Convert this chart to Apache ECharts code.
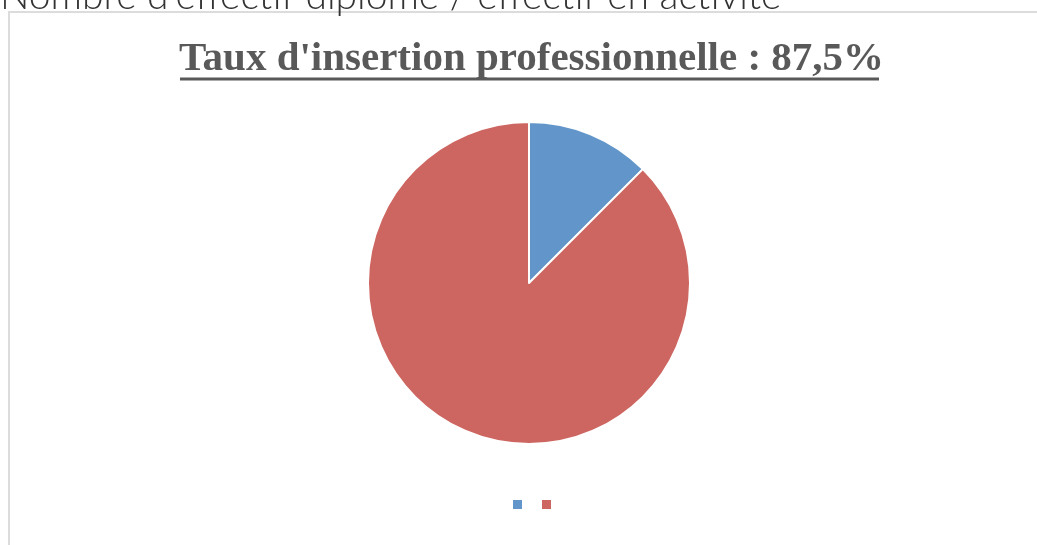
<!DOCTYPE html>
<html>
<head>
<meta charset="utf-8">
<script src="https://cdn.jsdelivr.net/npm/echarts@6/dist/echarts.min.js"></script>
<style>
  html, body { margin: 0; padding: 0; background: #fff; }
  #chart { width: 1037px; height: 545px; }
</style>
</head>
<body>
<div id="chart"></div>
<script>
// données
const categories = ['Non insérés', 'Insérés']
const values = [12.5, 87.5]
const colors = ['#6295c9', '#cd6660']
const headerText = "Nombre d'effectif diplômé / effectif en activité"
const titleText = "Taux d'insertion professionnelle : 87,5%"

const chart = echarts.init(document.getElementById('chart'))

chart.setOption({
  animation: false,
  color: colors,
  title: {
    text: titleText,
    left: 179,
    top: 39,
    padding: 0,
    textStyle: {
      fontFamily: 'Liberation Serif',
      fontWeight: 'bold',
      fontSize: 41,
      color: '#595959'
    }
  },
  legend: {
    top: 500,
    left: 513,
    itemWidth: 9,
    itemHeight: 9,
    itemGap: 20,
    icon: 'rect',
    padding: 0,
    itemStyle: { borderWidth: 0 },
    formatter: () => '',
    data: categories
  },
  graphic: [
    // cadre gris clair
    {
      type: 'rect',
      shape: { x: 9, y: 12, width: 1100, height: 600 },
      style: { fill: 'none', stroke: '#dcdcdc', lineWidth: 2 },
      silent: true
    },
    // texte du haut, coupé
    {
      type: 'text',
      left: 0,
      top: -23,
      style: {
        text: headerText,
        fontFamily: 'Lato',
        fontWeight: 300,
        fontSize: 39,
        fill: '#333'
      },
      silent: true
    },
    // soulignement du titre
    {
      type: 'line',
      shape: { x1: 180, y1: 79, x2: 879, y2: 79 },
      style: { stroke: '#595959', lineWidth: 3 },
      silent: true
    }
  ],
  series: [{
    type: 'pie',
    center: [529, 283],
    radius: [0, 161],
    startAngle: 90,
    clockwise: true,
    label: { show: false },
    labelLine: { show: false },
    itemStyle: { borderColor: '#fff', borderWidth: 2 },
    emphasis: { disabled: true },
    data: categories.map((name, i) => ({ name, value: values[i] }))
  }]
})
</script>
</body>
</html>
